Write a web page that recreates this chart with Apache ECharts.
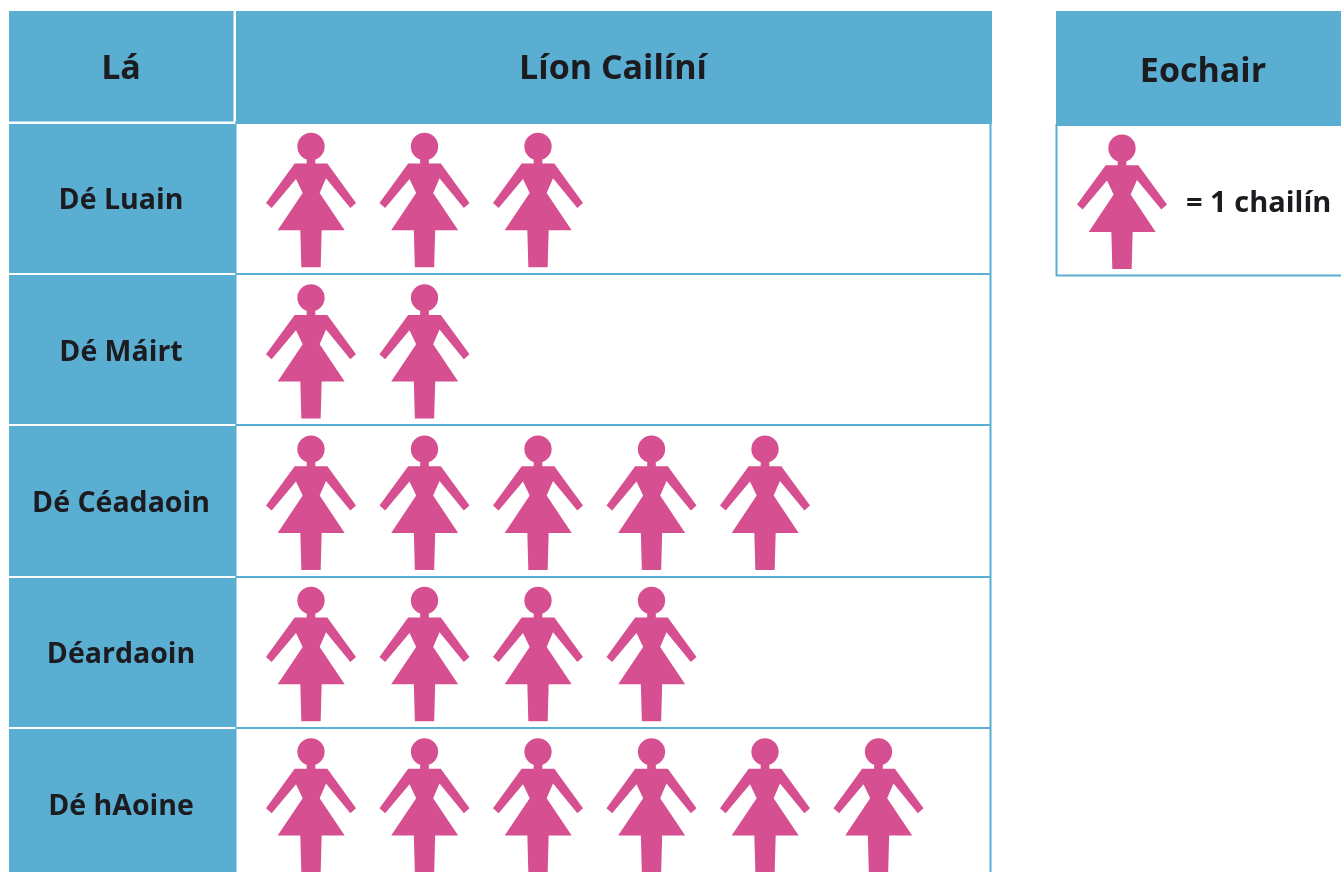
<!DOCTYPE html>
<html><head><meta charset="utf-8">
<style>html,body{margin:0;padding:0;background:#fff;overflow:hidden}#c{width:1341px;height:872px}</style>
<script src="https://cdn.jsdelivr.net/npm/echarts@6/dist/echarts.min.js"></script>
</head><body><div id="c"></div>
<script>
const dayHeader = 'Lá';
const countHeader = 'Líon Cailíní';
const keyHeader = 'Eochair';
const keyLabel = '= 1 chailín';
const days = ['Dé Luain', 'Dé Máirt', 'Dé Céadaoin', 'Déardaoin', 'Dé hAoine'];
const girls = [3, 2, 5, 4, 6];
const keyValue = [1];

const BLUE = '#59aed1', PINK = '#d64f90', INK = '#1b1b20';
const FONT = '"Open Sans", sans-serif';
const GIRL = 'path://M135 129L49 247L66 262L139 175L159 217L84 329L152 329L155 440L213 440L216 329L285 329L210 217L229 173L302 262L319 247L233 129L197 129L197 112L171 112L171 129Z' +
  'M143 78a41 41 0 1 0 82 0a41 41 0 1 0 -82 0Z';
const UNIT = 113.5, ROW = 151.33, TOP = 122.4;
const FIG = [90, 134.4];

const hdr = (x, y, w, h) => ({type:'rect', z:10, shape:{x, y, width:w, height:h}, style:{fill:BLUE}});
const hdrText = (x, y, text) => ({type:'text', z:11, x, y, style:{text, fill:INK, font:'700 34px '+FONT, align:'center', verticalAlign:'middle'}});

const chart = echarts.init(document.getElementById('c'), null, {renderer:'canvas'});
chart.setOption({
  animation:false,
  backgroundColor:'#fff',
  grid:[
    {left:9, top:TOP, width:226.5, height:ROW*5, show:true, backgroundColor:BLUE, borderWidth:0, outerBoundsMode:'none'},
    {left:235.5, top:TOP, width:755, height:ROW*5, show:true, backgroundColor:'#fff', borderColor:BLUE, borderWidth:2, outerBoundsMode:'none'},
    {left:1056.5, top:125, width:320, height:150.5, show:true, backgroundColor:'#fff', borderColor:BLUE, borderWidth:2, outerBoundsMode:'none'}
  ],
  xAxis:[
    {gridIndex:0, type:'value', show:false, min:0, max:1},
    {gridIndex:1, type:'value', show:false, min:0, max:755/UNIT},
    {gridIndex:2, type:'value', show:false, min:0, max:320/130}
  ],
  yAxis:[
    {gridIndex:0, type:'category', inverse:true, data:days,
     axisLine:{show:false}, axisTick:{show:false},
     axisLabel:{inside:true, margin:112, align:'center', formatter:'{d|{value}}',
       rich:{d:{color:INK, fontFamily:FONT, fontWeight:700, fontSize:28.5, lineHeight:30, padding:[6,0,0,0]}}},
     splitLine:{show:true, lineStyle:{color:'#fff', width:2}}},
    {gridIndex:1, type:'category', inverse:true, data:days,
     axisLine:{show:false}, axisTick:{show:false}, axisLabel:{show:false},
     splitLine:{show:true, lineStyle:{color:BLUE, width:2}}},
    {gridIndex:2, type:'category', data:[keyLabel], axisLine:{show:false}, axisTick:{show:false}, axisLabel:{show:false}}
  ],
  series:[
    {type:'pictorialBar', xAxisIndex:0, yAxisIndex:0, data:days.map(()=>0), symbolSize:[0,0], silent:true},
    {type:'pictorialBar', xAxisIndex:1, yAxisIndex:1, symbol:GIRL, symbolSize:FIG, symbolRepeat:true,
     symbolBoundingData:Math.max(...girls),
     symbolPosition:'start', symbolMargin:((UNIT-FIG[0])/2)+'!', symbolOffset:[18.75,2],  silent:true,
     itemStyle:{color:PINK}, data:girls},
    {type:'pictorialBar', xAxisIndex:2, yAxisIndex:2, symbol:GIRL, symbolSize:FIG, symbolRepeat:true,
     symbolBoundingData:1,
     symbolPosition:'start', symbolMargin:'20!', symbolOffset:[0.5,1.5], silent:true,
     itemStyle:{color:PINK}, data:keyValue}
  ],
  graphic:[
    hdr(9,11,224.5,110.5),
    hdr(236,11,756,112.5),
    hdr(1056,11,285,115),
    hdrText(121,69,dayHeader),
    hdrText(613,69,countHeader),
    hdrText(1203,72,keyHeader),
    {type:'text', z:11, x:1186, y:204, style:{text:keyLabel, fill:INK, font:'700 29px '+FONT, align:'left', verticalAlign:'middle'}}
  ]
});
</script></body></html>
